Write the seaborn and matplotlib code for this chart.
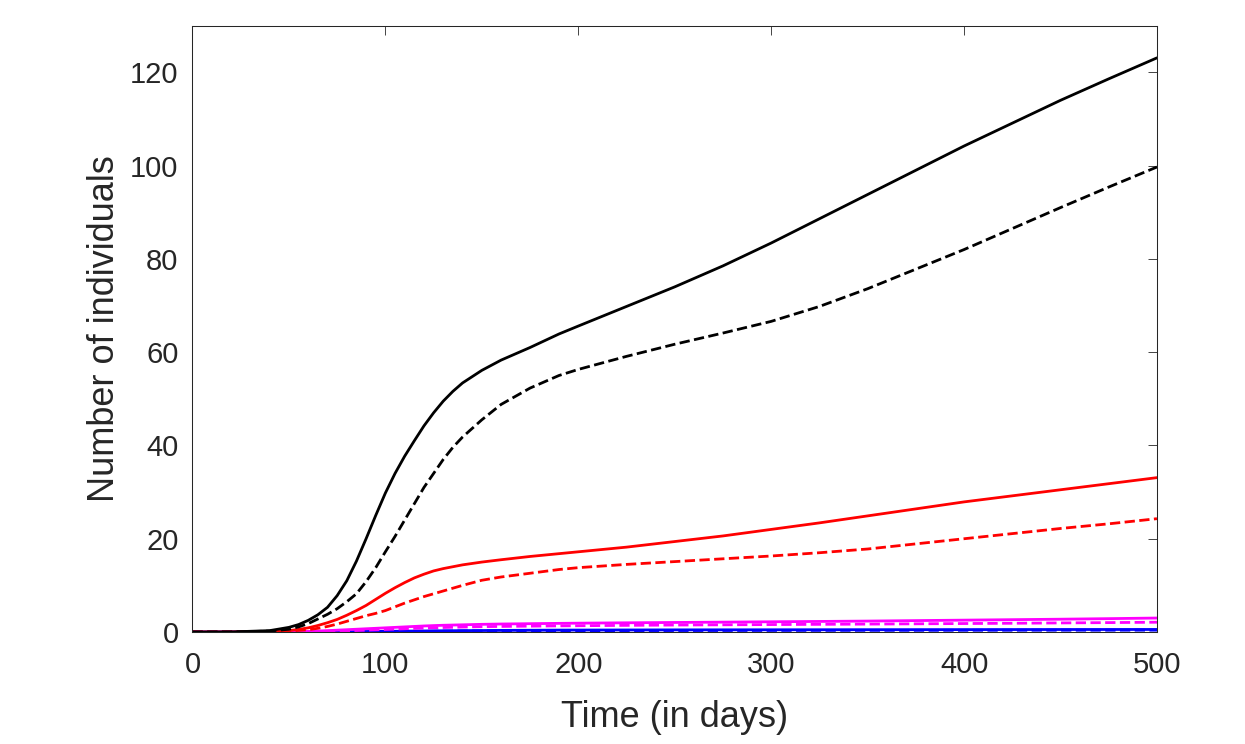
import matplotlib
matplotlib.use('Agg')
import matplotlib.pyplot as plt
import seaborn as sns
import pandas as pd

# time grid (days) and read-off values for each curve
time_days = [0, 20, 40, 50, 55, 60, 65, 70, 75, 80, 85, 90, 95, 100, 105, 110, 115, 120, 125, 130,
             135, 140, 150, 160, 175, 190, 200, 225, 250, 275, 300, 325, 350, 375, 400, 425, 450, 475, 500]

black_solid = [0, 0.02, 0.3, 1.0, 1.6, 2.5, 3.7, 5.3, 7.8, 11.0, 15.2, 20.0, 25.0, 29.8, 34.0, 37.7, 41.0, 44.2, 47.0, 49.5,
               51.6, 53.4, 56.1, 58.3, 61.0, 63.9, 65.6, 69.8, 74.0, 78.5, 83.4, 88.6, 93.8, 99.0, 104.2, 109.1, 114.0, 118.6, 123.1]
black_dashed = [0, 0.01, 0.2, 0.6, 1.1, 1.8, 2.8, 3.8, 5.0, 6.5, 8.2, 10.8, 13.8, 17.2, 20.5, 24.0, 27.5, 31.0, 34.0, 37.0,
                39.6, 41.8, 45.5, 48.8, 52.3, 55.0, 56.3, 59.1, 61.7, 64.1, 66.6, 69.8, 73.6, 77.8, 82.0, 86.5, 91.0, 95.4, 99.7]
red_solid = [0, 0.0, 0.1, 0.3, 0.55, 0.9, 1.4, 2.0, 2.7, 3.6, 4.6, 5.7, 7.0, 8.3, 9.5, 10.6, 11.6, 12.4, 13.1, 13.6,
             14.0, 14.4, 15.0, 15.5, 16.2, 16.8, 17.2, 18.2, 19.4, 20.6, 22.0, 23.4, 24.9, 26.4, 27.9, 29.2, 30.5, 31.8, 33.1]
red_dashed = [0, 0.0, 0.05, 0.2, 0.35, 0.5, 0.8, 1.2, 1.7, 2.3, 2.9, 3.5, 4.0, 4.6, 5.4, 6.2, 6.9, 7.6, 8.2, 8.8,
              9.4, 10.0, 11.1, 11.8, 12.6, 13.4, 13.8, 14.5, 15.1, 15.7, 16.3, 17.0, 17.8, 18.9, 20.0, 21.1, 22.2, 23.2, 24.3]
magenta_solid = [0, 0, 0.02, 0.05, 0.1, 0.15, 0.22, 0.3, 0.4, 0.5, 0.6, 0.7, 0.8, 0.9, 1.0, 1.1, 1.2, 1.3, 1.38, 1.45,
                 1.5, 1.55, 1.65, 1.72, 1.79, 1.86, 1.9, 1.98, 2.05, 2.12, 2.2, 2.27, 2.35, 2.45, 2.55, 2.65, 2.75, 2.87, 3.0]
magenta_dashed = [0, 0, 0.01, 0.02, 0.05, 0.08, 0.11, 0.15, 0.2, 0.25, 0.32, 0.4, 0.47, 0.55, 0.62, 0.7, 0.78, 0.85, 0.91, 0.97,
                  1.02, 1.07, 1.15, 1.2, 1.26, 1.32, 1.35, 1.43, 1.5, 1.55, 1.6, 1.65, 1.7, 1.76, 1.82, 1.88, 1.95, 2.02, 2.1]
blue_solid = [0, 0, 0, 0.01, 0.02, 0.03, 0.04, 0.05, 0.07, 0.08, 0.1, 0.12, 0.13, 0.15, 0.17, 0.19, 0.21, 0.23, 0.25, 0.27,
              0.28, 0.3, 0.32, 0.35, 0.38, 0.41, 0.42, 0.44, 0.46, 0.47, 0.48, 0.49, 0.5, 0.51, 0.52, 0.53, 0.54, 0.545, 0.55]
blue_dashed = [0, 0, 0, 0.01, 0.01, 0.02, 0.03, 0.04, 0.05, 0.06, 0.07, 0.08, 0.09, 0.1, 0.12, 0.13, 0.15, 0.16, 0.18, 0.19,
               0.2, 0.21, 0.23, 0.25, 0.27, 0.29, 0.3, 0.31, 0.32, 0.33, 0.34, 0.35, 0.36, 0.36, 0.37, 0.38, 0.39, 0.39, 0.4]

x_ticks = [0, 100, 200, 300, 400, 500]
y_ticks = [0, 20, 40, 60, 80, 100, 120]

sns.set_style("white")
plt.rcParams['font.family'] = ['Liberation Sans', 'DejaVu Sans']

fig = plt.figure(figsize=(12.45, 7.44), dpi=100)
ax = fig.add_axes([0.1546, 0.1505, 0.7747, 0.815])

# draw order: blue first, black last (black sits on top near zero)
series = [
    (blue_solid, '#0000ff', '-'), (blue_dashed, '#0000ff', '--'),
    (magenta_solid, '#ff00ff', '-'), (magenta_dashed, '#ff00ff', '--'),
    (red_solid, '#ff0000', '-'), (red_dashed, '#ff0000', '--'),
    (black_solid, '#000000', '-'), (black_dashed, '#000000', '--'),
]
for vals, col, ls in series:
    df = pd.DataFrame({'t': time_days, 'v': vals})
    line_kw = dict(dashes=(4.2, 4.3)) if ls == '--' else {}
    sns.lineplot(data=df, x='t', y='v', color=col, linewidth=2.0, ax=ax,
                 linestyle=ls, **line_kw)

ax.set_xlim(0, 500)
ax.set_ylim(0, 130)
ax.set_xticks(x_ticks)
ax.set_yticks(y_ticks)
ax.set_xlabel('Time (in days)', fontsize=26, color='#262626', labelpad=15)
ax.set_ylabel('Number of individuals', fontsize=26, color='#262626', labelpad=6)
ax.tick_params(axis='both', direction='in', length=6.5, width=0.6, labelsize=21,
               colors='#262626', top=True, right=True)
ax.tick_params(axis='x', pad=14)
ax.tick_params(axis='y', pad=10)
for sp in ax.spines.values():
    sp.set_color('#262626')
    sp.set_linewidth(0.75)
    sp.set_visible(True)

fig.savefig('out.png', dpi=100)
